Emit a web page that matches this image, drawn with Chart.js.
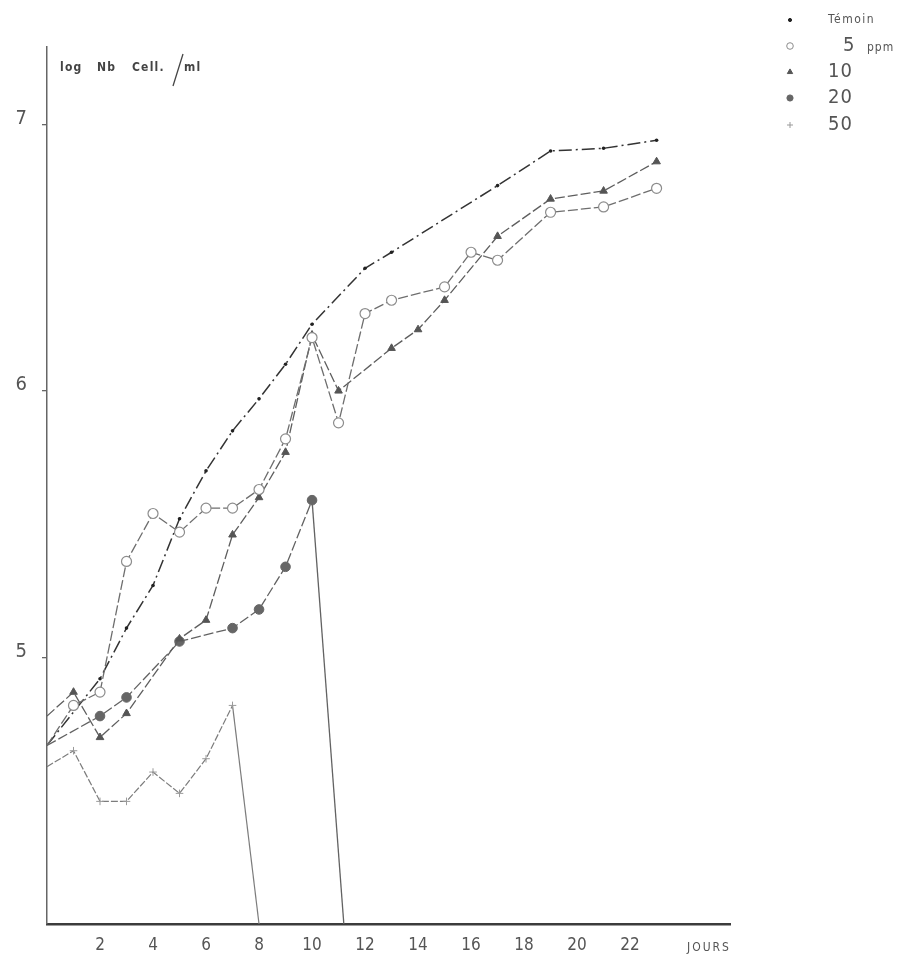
<!DOCTYPE html>
<html>
<head>
<meta charset="utf-8">
<script src="https://cdn.jsdelivr.net/npm/chart.js@4/dist/chart.umd.min.js"></script>
<style>
  html, body { margin: 0; padding: 0; background: #fff; }
  #wrap { width: 916px; height: 957px; position: relative; }
</style>
</head>
<body>
<div id="wrap"><canvas id="c" width="916" height="957"></canvas></div>
<script>
// Growth curves: log of cell count per ml against days, for a control and four doses.
const temoinDays = [0, 2, 3, 4, 5, 6, 7, 8, 9, 10, 12, 13, 17, 19, 21, 23];
const temoinLog  = [4.67, 4.92, 5.11, 5.27, 5.52, 5.70, 5.85, 5.97, 6.10, 6.25, 6.46, 6.52, 6.77, 6.90, 6.91, 6.94];

const ppm5Days = [0, 1, 2, 3, 4, 5, 6, 7, 8, 9, 10, 11, 12, 13, 15, 16, 17, 19, 21, 23];
const ppm5Log  = [4.67, 4.82, 4.87, 5.36, 5.54, 5.47, 5.56, 5.56, 5.63, 5.82, 6.20, 5.88, 6.29, 6.34, 6.39, 6.52, 6.49, 6.67, 6.69, 6.76];

const ppm10Days = [0, 1, 2, 3, 5, 6, 7, 8, 9, 10, 11, 13, 14, 15, 17, 19, 21, 23];
const ppm10Log  = [4.78, 4.87, 4.70, 4.79, 5.07, 5.14, 5.46, 5.60, 5.77, 6.21, 6.00, 6.16, 6.23, 6.34, 6.58, 6.72, 6.75, 6.86];

const ppm20Days = [0, 2, 3, 5, 7, 8, 9, 10, 11.2];
const ppm20Log  = [4.67, 4.78, 4.85, 5.06, 5.11, 5.18, 5.34, 5.59, 4.0];

const ppm50Days = [0, 1, 2, 3, 4, 5, 6, 7, 8];
const ppm50Log  = [4.59, 4.65, 4.46, 4.46, 4.57, 4.49, 4.62, 4.82, 4.0];

const seriesNames = ['Témoin', '5', '10', '20', '50'];
const xTickValues = [2, 4, 6, 8, 10, 12, 14, 16, 18, 20, 22];
const yTickValues = [5, 6, 7];

const FONT = '"Liberation Sans Narrow", "DejaVu Sans Condensed", "Liberation Sans", sans-serif';

function pts(xs, ys) { return xs.map((x, i) => ({ x: x, y: ys[i] })); }

// The inoculum (day 0) carries no marker, and a value at the floor of the axis
// marks a culture that died out: no marker there either, and the segment
// falling to it is drawn as a plain stroke.
const markerRadius = r => ctx => (ctx.raw && (ctx.raw.y <= 4 || ctx.raw.x === 0) ? 0 : r);
const dropSolid = dash => ({
  borderDash: ctx => (ctx.p1.parsed.y <= 4 ? [] : dash)
});

const datasets = [
  {
    label: seriesNames[0],
    data: pts(temoinDays, temoinLog),
    borderColor: '#333', borderWidth: 1.5, borderDash: [13, 4, 2, 4],
    pointStyle: 'circle', pointRadius: markerRadius(1.8),
    pointBackgroundColor: '#222', pointBorderColor: '#222', pointBorderWidth: 0,
    order: 5
  },
  {
    label: seriesNames[1],
    data: pts(ppm5Days, ppm5Log),
    borderColor: '#6e6e6e', borderWidth: 1.3, borderDash: [10, 3],
    pointStyle: 'circle', pointRadius: markerRadius(5),
    pointBackgroundColor: '#fff', pointBorderColor: '#8c8c8c', pointBorderWidth: 1.2,
    order: 1
  },
  {
    label: seriesNames[2],
    data: pts(ppm10Days, ppm10Log),
    borderColor: '#5e5e5e', borderWidth: 1.3, borderDash: [10, 3],
    pointStyle: 'triangle', pointRadius: markerRadius(4.4),
    pointBackgroundColor: '#555', pointBorderColor: '#555', pointBorderWidth: 1,
    order: 2
  },
  {
    label: seriesNames[3],
    data: pts(ppm20Days, ppm20Log),
    borderColor: '#626262', borderWidth: 1.3, borderDash: [10, 3],
    segment: dropSolid([10, 3]),
    pointStyle: 'circle', pointRadius: markerRadius(4.8),
    pointBackgroundColor: '#666', pointBorderColor: '#666', pointBorderWidth: 1,
    order: 3
  },
  {
    label: seriesNames[4],
    data: pts(ppm50Days, ppm50Log),
    borderColor: '#7c7c7c', borderWidth: 1.2, borderDash: [7, 2],
    segment: dropSolid([7, 2]),
    pointStyle: 'cross', pointRadius: markerRadius(3.8),
    pointBackgroundColor: '#9a9a9a', pointBorderColor: '#9a9a9a', pointBorderWidth: 1,
    order: 4
  }
];

// Legend in the upper right corner, titles for both axes.
const annotations = {
  id: 'annotations',
  afterDraw(chart) {
    const c = chart.ctx;
    c.save();
    c.textBaseline = 'middle';
    c.textAlign = 'left';

    const mx = 790;
    const rows = [20, 46, 72, 98, 125];
    chart.data.datasets.forEach((ds, i) => {
      const y = rows[i];
      const r = i === 0 ? 1.6 : (i === 1 ? 3.3 : (i === 4 ? 3 : 3.1));
      c.fillStyle = ds.pointBackgroundColor;
      c.strokeStyle = ds.pointBorderColor;
      c.lineWidth = 1;
      Chart.helpers.drawPoint(c, { pointStyle: ds.pointStyle, radius: r, rotation: 0, borderWidth: 1 }, mx, y);
    });

    c.fillStyle = '#555';
    c.letterSpacing = '1.5px';
    c.font = '12px ' + FONT;
    c.fillText(seriesNames[0], 828, rows[0]);
    c.letterSpacing = '1px';
    c.font = '20px ' + FONT;
    c.fillText(seriesNames[1], 843, rows[1]);
    c.fillText(seriesNames[2], 828, rows[2]);
    c.fillText(seriesNames[3], 828, rows[3]);
    c.fillText(seriesNames[4], 828, rows[4]);
    c.font = '12px ' + FONT;
    c.fillText('ppm', 867, rows[1] + 2);

    // y axis title: log Nb Cell. / ml
    c.fillStyle = '#444';
    c.letterSpacing = '1.2px';
    c.font = 'bold 12px ' + FONT;
    c.fillText('log', 60, 68);
    c.fillText('Nb', 97, 68);
    c.fillText('Cell.', 132, 68);
    c.strokeStyle = '#444';
    c.lineWidth = 1.3;
    c.beginPath();
    c.moveTo(183, 54);
    c.lineTo(173, 86);
    c.stroke();
    c.fillText('ml', 184, 68);

    // x axis title
    c.fillStyle = '#555';
    c.letterSpacing = '2px';
    c.font = '12px ' + FONT;
    c.fillText('JOURS', 687, 948);
    c.restore();
  }
};

new Chart(document.getElementById('c'), {
  type: 'line',
  data: { datasets: datasets },
  options: {
    responsive: false,
    devicePixelRatio: 1,
    animation: false,
    events: [],
    layout: { padding: { left: 0, top: 47, right: 186, bottom: 0 } },
    plugins: { legend: { display: false }, tooltip: { enabled: false } },
    elements: { line: { tension: 0, fill: false } },
    scales: {
      x: {
        type: 'linear', min: 0, max: 25.77,
        afterBuildTicks: s => { s.ticks = xTickValues.map(v => ({ value: v })); },
        afterFit: s => { s.height = 33; },
        grid: { display: false, drawTicks: false },
        border: { display: true, color: '#3c3c3c', width: 2.4 },
        ticks: { color: '#555', padding: 11, font: { family: FONT, size: 17 }, maxRotation: 0, autoSkip: false }
      },
      y: {
        type: 'linear', min: 4, max: 7.29,
        afterBuildTicks: s => { s.ticks = yTickValues.map(v => ({ value: v })); },
        afterFit: s => { s.width = 47; },
        grid: { display: true, drawOnChartArea: false, drawTicks: true, tickLength: 5, color: '#666', lineWidth: 1.3 },
        border: { display: true, color: '#666', width: 1.5 },
        ticks: { color: '#555', padding: 15, labelOffset: -6, font: { family: FONT, size: 20 } }
      }
    }
  },
  plugins: [annotations]
});
</script>
</body>
</html>
